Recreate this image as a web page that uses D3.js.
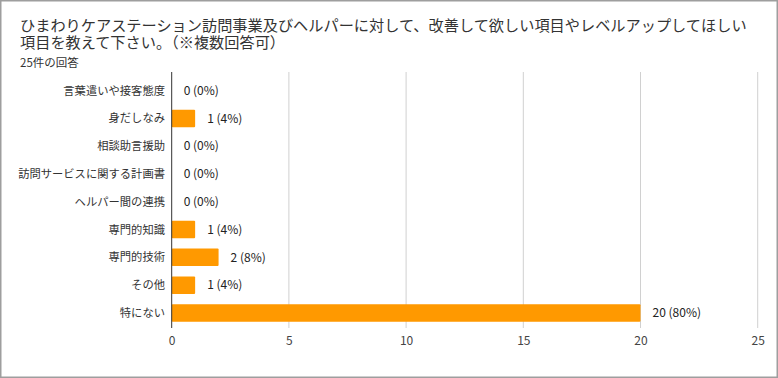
<!DOCTYPE html>
<html><head><meta charset="utf-8">
<script src="https://cdn.jsdelivr.net/npm/d3@7"></script>
<style>
html,body{margin:0;padding:0;background:#fff;}
svg{display:block;font-family:"Noto Sans CJK JP","Noto Sans",Arial,sans-serif;}
</style></head>
<body>
<svg id="c" width="778" height="378"></svg>
<script>
const titleLines = ["ひまわりケアステーション訪問事業及びヘルパーに対して、改善して欲しい項目やレベルアップしてほしい","項目を教えて下さい。（※複数回答可）"];
const subtitle = "25件の回答";
const categories = ["言葉遣いや接客態度","身だしなみ","相談助言援助","訪問サービスに関する計画書","ヘルパー間の連携","専門的知識","専門的技術","その他","特にない"];
const values = [0,1,0,0,0,1,2,1,20];
const percents = ["0%","4%","0%","0%","0%","4%","8%","4%","80%"];
const ticks = [0,5,10,15,20,25];

const svg = d3.select("#c");
svg.append("rect").attr("x",0.75).attr("y",0.75).attr("width",776.5).attr("height",376.5)
  .attr("fill","#fff").attr("stroke","#9e9e9e").attr("stroke-width",1.5);

const title = svg.append("text").attr("x",20).attr("y",31).attr("font-size",15.2).attr("fill","#333");
title.selectAll("tspan").data(titleLines).enter().append("tspan")
  .attr("x",20).attr("y",(d,i)=>31+i*17).text(d=>d);
svg.append("text").attr("x",20).attr("y",66.5).attr("font-size",11.5).attr("fill","#333").text(subtitle);

const x = d3.scaleLinear().domain([0,25]).range([171.7,757.7]);
const y = d3.scaleBand().domain(categories).range([76.8,326.8]).paddingInner(0.37).paddingOuter(0.185);

const g = svg.append("g");
g.selectAll("line.grid").data(ticks.filter(t=>t>0)).enter().append("line")
  .attr("x1",d=>x(d)).attr("x2",d=>x(d)).attr("y1",72).attr("y2",328)
  .attr("stroke","#d0d0d0").attr("stroke-width",1);

g.selectAll("rect.bar").data(values).enter().append("rect")
  .attr("x",x(0)).attr("y",(d,i)=>y(categories[i]))
  .attr("width",d=>x(d)-x(0)).attr("height",y.bandwidth())
  .attr("fill","#ff9900").attr("rx",1);

g.append("line").attr("x1",x(0)).attr("x2",x(0)).attr("y1",72).attr("y2",328)
  .attr("stroke","#333").attr("stroke-width",1);

g.selectAll("text.cat").data(categories).enter().append("text")
  .attr("x",165).attr("y",d=>y(d)+y.bandwidth()/2).attr("dy","0.35em")
  .attr("text-anchor","end").attr("font-size",11.3).attr("fill","#333").text(d=>d);

g.selectAll("text.val").data(values).enter().append("text")
  .attr("x",d=>x(d)+12).attr("y",(d,i)=>y(categories[i])+y.bandwidth()/2).attr("dy","0.35em")
  .attr("font-size",12).attr("fill","#222").text((d,i)=>d+" ("+percents[i]+")");

const axis = d3.axisBottom(x).tickValues(ticks).tickSize(0).tickPadding(0);
const ag = svg.append("g").attr("transform","translate(0,336)").call(axis);
ag.select(".domain").remove();
ag.selectAll("text").attr("font-size",12).attr("fill","#444")
  .attr("font-family","'Noto Sans CJK JP','Noto Sans',Arial,sans-serif").attr("dy","0.71em");
</script>
</body></html>
